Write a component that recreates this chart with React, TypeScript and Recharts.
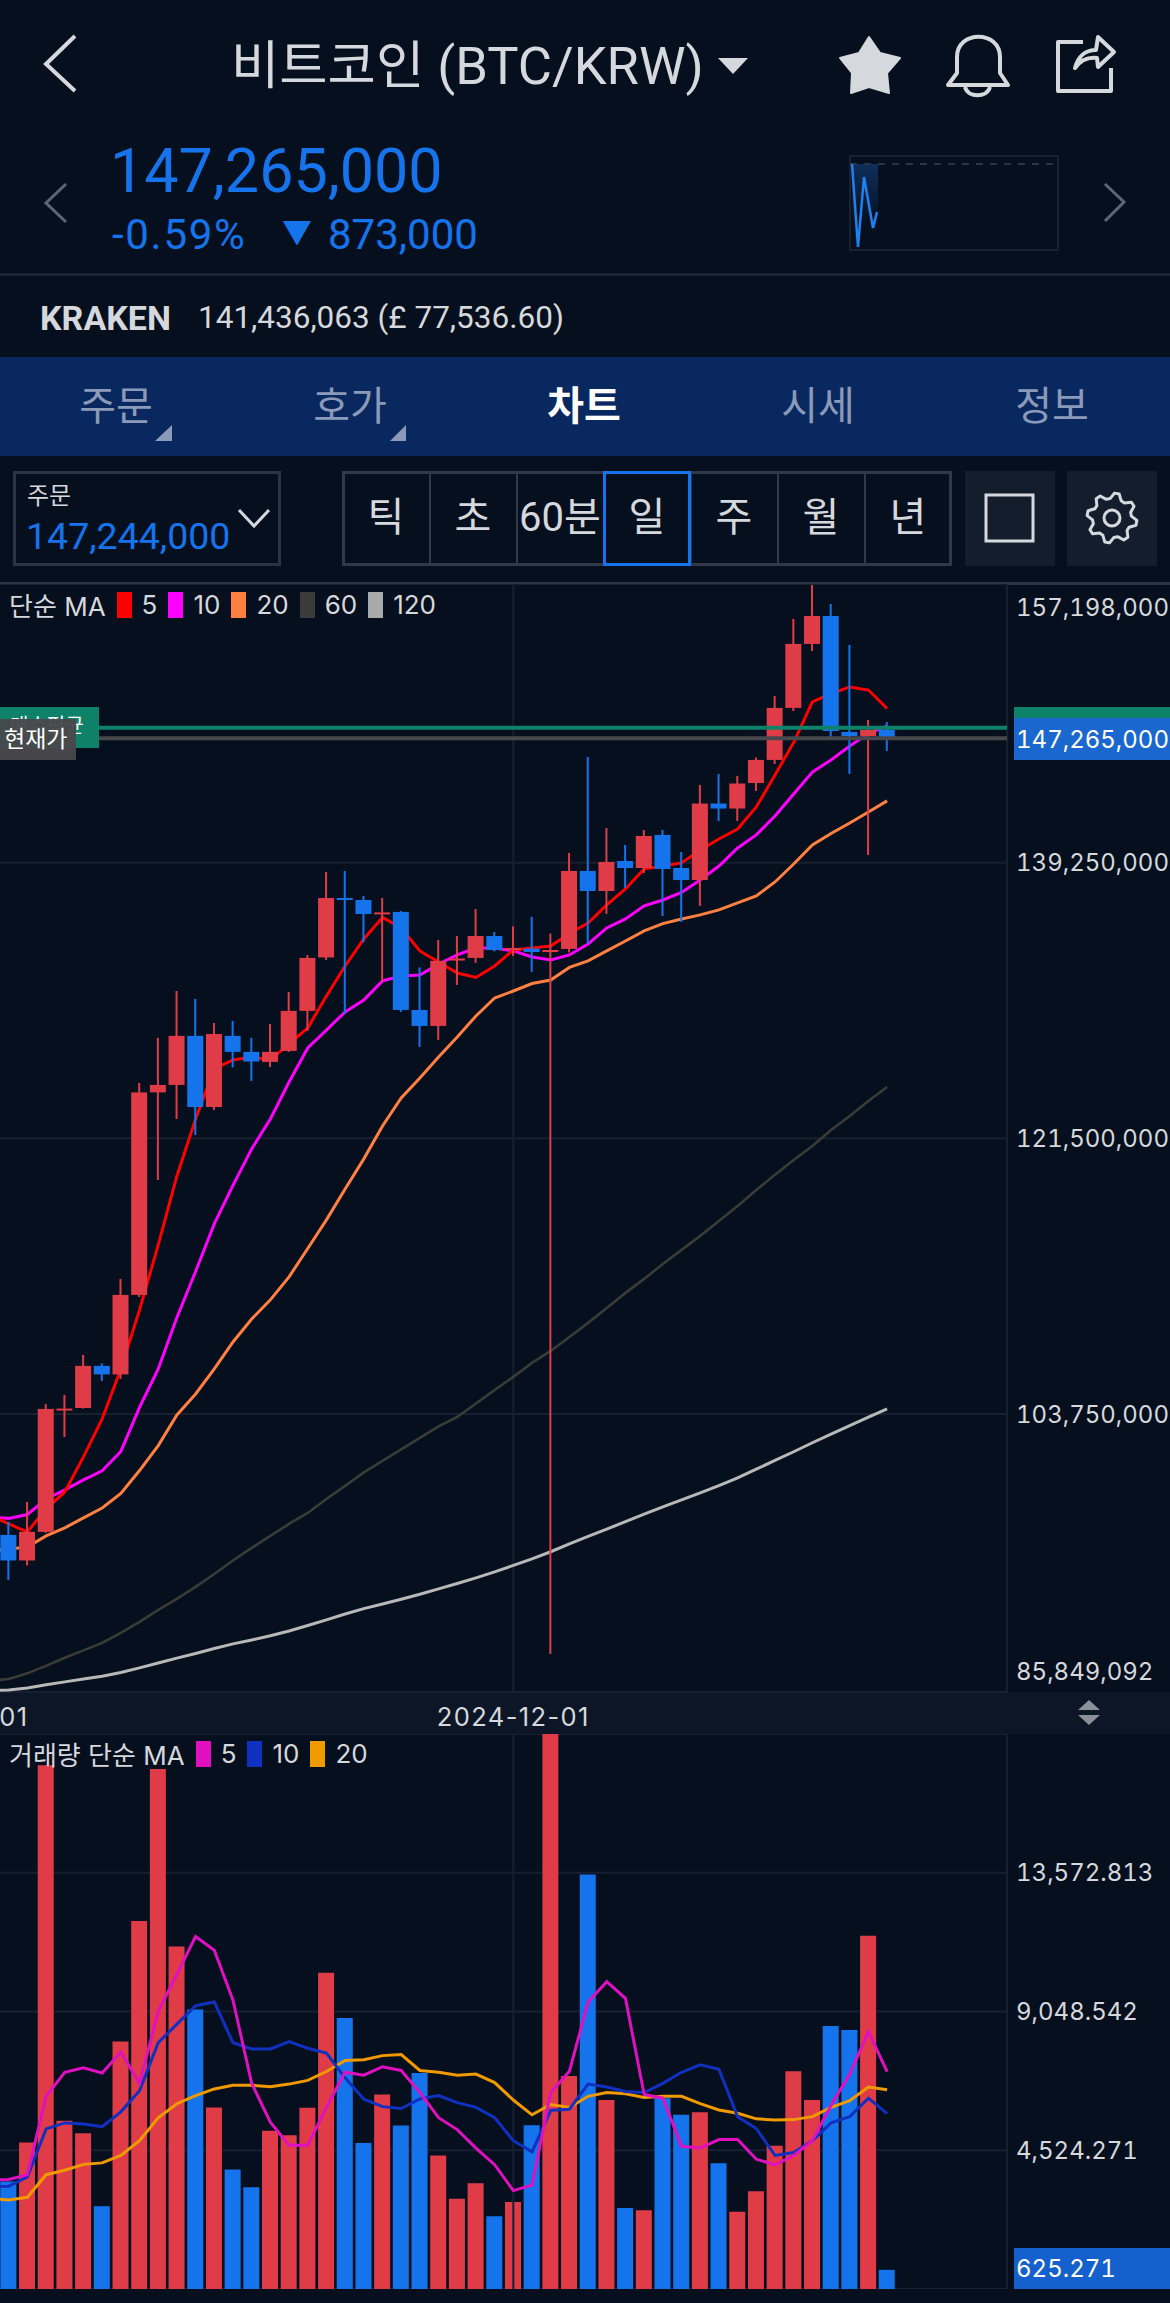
import React from "react";
import {
  Bar,
  CartesianGrid,
  Cell,
  ComposedChart,
  Line,
  ReferenceLine,
  XAxis,
  YAxis,
} from "recharts";

// candles, in million KRW, oldest first
const candleOpen = [95.96, 94.32, 96.16, 104.01, 104.14, 106.85, 106.3, 111.42, 124.46, 124.94, 128.1, 123.52, 128.1, 127.07, 126.42, 127.13, 129.71, 133.15, 136.98, 136.85, 135.95, 136.08, 129.77, 128.74, 132.99, 133.12, 134.53, 133.63, 133.72, 133.5, 133.7, 138.72, 137.43, 139.36, 138.91, 141.04, 138.91, 138.14, 143.06, 142.74, 144.38, 145.87, 149.22, 153.34, 155.14, 147.67, 147.41, 147.8];
const candleClose = [94.32, 96.16, 104.08, 104.1, 106.85, 106.3, 111.42, 124.46, 124.94, 128.1, 123.52, 128.22, 127.07, 126.45, 127.07, 129.71, 133.12, 136.98, 136.85, 135.95, 136.05, 129.77, 128.74, 132.93, 133.08, 134.53, 133.63, 133.76, 133.5, 133.63, 138.72, 137.43, 139.3, 138.91, 140.97, 138.85, 138.14, 143.06, 142.74, 144.35, 145.87, 149.22, 153.34, 155.14, 147.73, 147.41, 147.8, 147.27];
const candleHigh = [96.8, 98.09, 104.4, 104.98, 107.55, 107.01, 112.45, 125.07, 127.97, 130.99, 130.48, 128.93, 129.06, 127.97, 128.87, 130.93, 133.31, 138.66, 138.72, 137.11, 136.98, 136.14, 132.51, 134.28, 134.53, 136.27, 134.79, 135.15, 135.76, 134.69, 139.88, 146.06, 141.49, 140.39, 141.36, 141.36, 139.94, 144.26, 144.97, 144.84, 146.03, 149.99, 154.95, 157.13, 155.91, 153.27, 148.44, 148.31];
const candleLow = [93.07, 94.0, 96.1, 102.27, 104.1, 105.88, 106.01, 111.29, 118.82, 122.75, 121.72, 123.33, 126.07, 125.2, 126.1, 127.07, 128.42, 132.99, 129.51, 134.12, 131.57, 129.64, 127.39, 127.84, 131.38, 132.8, 133.54, 133.25, 132.22, 88.3, 133.47, 134.02, 135.95, 137.63, 138.59, 135.82, 135.44, 136.47, 141.94, 141.94, 143.87, 145.61, 149.02, 152.89, 147.35, 144.97, 139.75, 146.45];

// moving averages start one day before the first candle, off the left edge
const ma5 = [97.25, 96.67, 96.16, 97.64, 98.73, 100.99, 103.43, 106.65, 110.45, 114.64, 119.08, 122.75, 125.97, 126.55, 126.74, 126.55, 127.58, 128.61, 130.67, 132.6, 134.34, 135.73, 135.05, 133.57, 132.86, 132.15, 131.86, 132.6, 133.63, 133.76, 133.89, 134.69, 135.37, 136.53, 137.56, 138.85, 139.04, 139.24, 140.07, 140.78, 141.42, 142.84, 144.9, 146.99, 149.6, 150.14, 150.57, 150.37, 149.18];
const ma10 = [97.12, 97.03, 97.28, 98.28, 98.86, 99.51, 100.09, 101.34, 104.18, 106.65, 109.97, 112.93, 115.99, 118.47, 120.82, 122.75, 125.13, 127.32, 128.48, 129.64, 130.41, 131.64, 131.96, 132.02, 132.73, 133.31, 133.76, 133.76, 133.57, 133.18, 132.99, 133.31, 134.02, 135.05, 135.63, 136.47, 136.85, 137.34, 138.14, 139.04, 140.2, 141.04, 142.26, 143.68, 145.09, 145.87, 146.77, 147.57, 148.06];
const ma20 = [94.93, 95.06, 95.19, 95.9, 96.42, 97.06, 97.7, 98.63, 100.11, 101.72, 103.69, 105.04, 106.65, 108.39, 109.87, 111.1, 112.58, 114.41, 116.25, 118.24, 120.18, 122.3, 124.1, 125.39, 126.74, 128.03, 129.38, 130.54, 130.99, 131.47, 131.7, 132.51, 132.93, 133.57, 134.21, 134.86, 135.33, 135.63, 135.89, 136.21, 136.66, 137.11, 138.01, 139.17, 140.39, 141.13, 141.81, 142.52, 143.23];
const ma60 = [86.56, 86.69, 87.05, 87.53, 88.05, 88.53, 89.01, 89.65, 90.36, 91.14, 91.84, 92.62, 93.45, 94.32, 95.13, 95.9, 96.67, 97.38, 98.28, 99.12, 99.99, 100.73, 101.47, 102.21, 102.95, 103.56, 104.43, 105.3, 106.14, 107.04, 107.81, 108.71, 109.62, 110.58, 111.55, 112.45, 113.41, 114.32, 115.22, 116.18, 117.15, 118.18, 119.15, 120.11, 121.01, 122.04, 122.94, 123.91, 124.81];
const ma120 = [85.95, 85.98, 86.11, 86.31, 86.5, 86.69, 86.87, 87.1, 87.4, 87.72, 88.03, 88.33, 88.65, 88.95, 89.2, 89.47, 89.78, 90.13, 90.49, 90.87, 91.22, 91.52, 91.82, 92.14, 92.49, 92.84, 93.2, 93.58, 94.0, 94.42, 94.88, 95.39, 95.87, 96.34, 96.82, 97.3, 97.77, 98.22, 98.67, 99.14, 99.64, 100.2, 100.76, 101.32, 101.9, 102.46, 103.0, 103.55, 104.08];

const volumes = [3509, 4776, 17077, 5487, 5077, 2701, 8068, 12000, 16956, 11168, 9117, 5921, 3895, 3316, 5162, 5017, 5909, 10311, 8840, 4764, 6344, 5330, 7043, 4354, 2943, 3449, 2376, 2834, 5343, 18097, 6947, 13519, 6163, 2641, 2569, 6223, 5680, 5765, 4100, 2521, 3184, 4667, 7103, 6163, 8575, 8442, 11517, 625.271];
const volMa5 = [3546, 3570, 3727, 6283, 7067, 7212, 7043, 7730, 6705, 9057, 10263, 11493, 11047, 9419, 6705, 5439, 4691, 4691, 5921, 7067, 6971, 7248, 7127, 6404, 5584, 5198, 4595, 4052, 3208, 3389, 6404, 7103, 9358, 10022, 9479, 6344, 6223, 4655, 4595, 4872, 4872, 4233, 4052, 4354, 4836, 5982, 7007, 8394, 7091];
const volMa10 = [3329, 3353, 3654, 5222, 5415, 5379, 5294, 5777, 6464, 8032, 8635, 9238, 9359, 8032, 7827, 7827, 8068, 7851, 7694, 6886, 6187, 5946, 5885, 6199, 6307, 6078, 5921, 5584, 4836, 4474, 5825, 5861, 6681, 6585, 6440, 6404, 6705, 7067, 7308, 7164, 5620, 5234, 4354, 4450, 4836, 5415, 5620, 6223, 5716];
const volMa20 = [2943, 2906, 2991, 3727, 3871, 4064, 4112, 4354, 4836, 5584, 6042, 6307, 6524, 6645, 6645, 6597, 6681, 6802, 7091, 7453, 7477, 7610, 7646, 7127, 7067, 6971, 7007, 6729, 6163, 5680, 6018, 5921, 6283, 6404, 6368, 6247, 6283, 6283, 6042, 5837, 5728, 5548, 5511, 5523, 5620, 5921, 6138, 6585, 6500];

const priceTicks = [157.198, 139.25, 121.5, 103.75, 85.849092];
const priceTickLabels = ["157,198,000", "139,250,000", "121,500,000", "103,750,000", "85,849,092"];
const volumeTicks = [4524.271, 9048.542, 13572.813];
const volumeTickLabels = ["4,524.271", "9,048.542", "13,572.813"];
const dateTicks = [0.28, 27];
const dateTickLabels = ["01", "2024-12-01"];

const currentPrice = 147.265;
const buyAverage = 147.94;

const sparkX = [2, 8, 14, 23, 27];
const sparkY = [87, 4, 74, 23, 39];

const priceLegend = [
  { label: "5", color: "#ff0000" },
  { label: "10", color: "#ff00ff" },
  { label: "20", color: "#ff8040" },
  { label: "60", color: "#3b3b3a" },
  { label: "120", color: "#a9a9a9" },
];
const volumeLegend = [
  { label: "5", color: "#e010c0" },
  { label: "10", color: "#1030c0" },
  { label: "20", color: "#f09a00" },
];
const tabs = ["주문", "호가", "차트", "시세", "정보"];
const periods = ["틱", "초", "60분", "일", "주", "월", "년"];

const UP = "#e03c48";
const DOWN = "#1574ec";
const BG = "#060f1e";
const GRID = "#162030";
const LIGHT = "#d5d8dc";
const CJK = 'Roboto, "Noto Sans CJK KR", sans-serif';
const AXIS_FONT = 'Inter, "Noto Sans CJK KR", sans-serif';

const priceRows = ma5.map((_, k) => {
  const i = k - 1;
  return {
    day: i,
    open: candleOpen[i],
    close: candleClose[i],
    high: candleHigh[i],
    low: candleLow[i],
    range: i < 0 ? null : [candleLow[i], candleHigh[i]],
    ma5: ma5[k],
    ma10: ma10[k],
    ma20: ma20[k],
    ma60: ma60[k],
    ma120: ma120[k],
  };
});

const volumeRows = volMa5.map((_, k) => {
  const i = k - 1;
  return {
    day: i,
    volume: i < 0 ? null : volumes[i],
    up: i < 0 ? false : candleClose[i] >= candleOpen[i],
    ma5: volMa5[k],
    ma10: volMa10[k],
    ma20: volMa20[k],
  };
});

const sparkRows = sparkX.map((x, i) => ({ x, y: sparkY[i] }));

function Candle(props: any) {
  const { x, y, width, height, payload } = props;
  if (payload.open === undefined) return null;
  const span = payload.high - payload.low;
  const toY = (v: number) => y + ((payload.high - v) / span) * height;
  const top = toY(Math.max(payload.open, payload.close));
  const bottom = toY(Math.min(payload.open, payload.close));
  const color = payload.close >= payload.open ? UP : DOWN;
  return (
    <g>
      <rect x={x + width / 2 - 1} y={y} width={2} height={height} fill={color} />
      <rect x={x} y={top} width={width} height={Math.max(bottom - top, 2)} fill={color} />
    </g>
  );
}

function PriceTick(props: any) {
  const { y, payload } = props;
  const i = priceTicks.indexOf(payload.value);
  // the top and bottom labels are pushed inside the pane
  const labelY = Math.min(Math.max(y, 23), 1087);
  return (
    <text x={1016} y={labelY} dominantBaseline="central" fill={LIGHT} fontSize={24} fontFamily={AXIS_FONT} style={{ fontVariantNumeric: "tabular-nums" }}>
      {priceTickLabels[i]}
    </text>
  );
}

function VolumeTick(props: any) {
  const { y, payload } = props;
  const i = volumeTicks.indexOf(payload.value);
  return (
    <text x={1016} y={y} dominantBaseline="central" fill={LIGHT} fontSize={24} fontFamily={AXIS_FONT} style={{ fontVariantNumeric: "tabular-nums" }}>
      {volumeTickLabels[i]}
    </text>
  );
}

function DateTick(props: any) {
  const { x, y, payload } = props;
  const i = dateTicks.indexOf(payload.value);
  return (
    <text x={x} y={y + 16} textAnchor="middle" dominantBaseline="central" fill={LIGHT} fontSize={25.5} letterSpacing={1.4} fontFamily={AXIS_FONT}>
      {dateTickLabels[i]}
    </text>
  );
}

function Label(props: any) {
  const { x, y, size, color = LIGHT, weight = 400, family = CJK, anchor = "left", spacing = 0, tabular = false, children } = props;
  const shift = anchor === "center" ? "translate(-50%,-50%)" : "translateY(-50%)";
  return (
    <div
      style={{
        position: "absolute",
        left: x,
        top: y,
        transform: shift,
        fontSize: size,
        color,
        fontWeight: weight,
        fontFamily: family,
        letterSpacing: spacing,
        fontVariantNumeric: tabular ? "tabular-nums" : "normal",
        whiteSpace: "nowrap",
        lineHeight: 1,
      }}
    >
      {children}
    </div>
  );
}

function Box(props: any) {
  const { x, y, w, h, bg, border } = props;
  return (
    <div
      style={{
        position: "absolute",
        left: x,
        top: y,
        width: w,
        height: h,
        background: bg,
        border,
        boxSizing: "border-box",
      }}
    />
  );
}

function LegendRow(props: any) {
  const { x, y, title, items } = props;
  return (
    <div
      style={{
        position: "absolute",
        left: x,
        top: y,
        height: 27,
        display: "flex",
        alignItems: "center",
        fontSize: 26,
        color: LIGHT,
        fontFamily: AXIS_FONT,
        whiteSpace: "nowrap",
      }}
    >
      <span style={{ marginRight: 11 }}>{title}</span>
      {items.map((item: any) => (
        <React.Fragment key={item.label}>
          <span style={{ width: 15, height: 26, background: item.color, marginRight: 10 }} />
          <span style={{ marginRight: 11 }}>{item.label}</span>
        </React.Fragment>
      ))}
    </div>
  );
}

function Icons() {
  const gear: string[] = [];
  for (let k = 0; k < 32; k++) {
    const r = k % 4 < 2 ? 25 : 19.5;
    const a = ((k - 0.5) * Math.PI) / 16 - Math.PI / 2 + Math.PI / 16;
    gear.push(`${1112 + r * Math.cos(a)},${518 + r * Math.sin(a)}`);
  }
  return (
    <svg width={1170} height={600} style={{ position: "absolute", left: 0, top: 0 }} fill="none">
      <path d="M75 36 L46 64 L75 91" stroke={LIGHT} strokeWidth={4} />
      <path d="M718 58 H748 L733 74 Z" fill={LIGHT} />
      <path
        d="M869 37 L880 53 L900 58 L887 73 L889 93 L869 87 L851 93 L852 73 L840 58 L859 53 Z"
        fill={LIGHT}
        stroke={LIGHT}
        strokeWidth={2}
        strokeLinejoin="round"
      />
      <path
        d="M948 85 L957 73 V57 C957 30 1000 30 1000 57 V73 L1008 85 Z M965 87 C968 98 987 98 990 87"
        stroke={LIGHT}
        strokeWidth={4}
        strokeLinejoin="round"
      />
      <path d="M1083 42 H1058 V91 H1111 V68" stroke={LIGHT} strokeWidth={4} strokeLinejoin="round" />
      <path
        d="M1075 68 C1078 56 1086 50 1096 50 L1098 37 L1114 52 L1098 67 L1097 58 C1088 57 1080 61 1075 68 Z"
        stroke={LIGHT}
        strokeWidth={4}
        strokeLinejoin="round"
      />
      <path d="M66 184 L46 203 L66 222" stroke="#5d6675" strokeWidth={3} />
      <path d="M1105 184 L1124 202 L1105 221" stroke="#5d6675" strokeWidth={3} />
      <path d="M850 164 H1056" stroke="#2a3442" strokeWidth={2} strokeDasharray="7 7" />
      <path d="M155 441 L172 425 V441 Z M390 441 L406 425 V441 Z" fill="#8a9ab8" />
      <path d="M239 510 L254 526 L269 510" stroke={LIGHT} strokeWidth={3} />
      <rect x={986} y={495} width={47} height={46} stroke={LIGHT} strokeWidth={3} />
      <polygon points={gear.join(" ")} stroke={LIGHT} strokeWidth={3} strokeLinejoin="round" />
      <circle cx={1112} cy={518} r={8} stroke={LIGHT} strokeWidth={3} />
    </svg>
  );
}

export default function App() {
  return (
    <div
      style={{
        position: "absolute",
        left: 0,
        top: 0,
        width: 1170,
        height: 2303,
        overflow: "hidden",
        background: BG,
      }}
    >
      <Box x={0} y={273} w={1170} h={3} bg="#1a2434" />
      <Box x={0} y={357} w={1170} h={99} bg="#0a2860" />
      <Box x={13} y={471} w={268} h={95} border="3px solid #2a3442" />
      <Box x={342} y={471} w={610} h={95} border="3px solid #2f3947" />
      {[429, 516, 603, 690, 777, 864].map((x) => (
        <Box key={x} x={x} y={471} w={2} h={95} bg="#2f3947" />
      ))}
      <Box x={603} y={471} w={88} h={95} border="3px solid #1574ec" />
      <Box x={965} y={471} w={90} h={95} bg="#141d2c" />
      <Box x={1067} y={471} w={90} h={95} bg="#141d2c" />
      <Box x={0} y={582} w={1170} h={3} bg="#2a3442" />
      <Box x={0} y={1692} w={1170} h={42} bg="#0d1626" />
      <Box x={849} y={155} w={210} h={96} border="2px solid #182130" />
      <div
        style={{
          position: "absolute",
          left: 852,
          top: 164,
          width: 26,
          height: 60,
          background: "linear-gradient(#0e2f5c, rgba(14,47,92,0))",
        }}
      />

      <Icons />

      <Label x={231} y={66} size={52.5} color={LIGHT}>
        비트코인 (BTC/KRW)
      </Label>
      <Label x={110} y={171} size={61} color={DOWN}>
        147,265,000
      </Label>
      <Label x={112} y={235} size={42} color={DOWN} spacing={1.7}>
        -0.59%
      </Label>
      <Label x={282} y={233} size={30} color={DOWN}>
        ▼
      </Label>
      <Label x={328} y={235} size={42} color={DOWN}>
        873,000
      </Label>
      <Label x={40} y={318} size={34} weight={700} color={LIGHT}>
        KRAKEN
      </Label>
      <Label x={198} y={318} size={31.5} color={LIGHT}>
        141,436,063 (£ 77,536.60)
      </Label>
      {tabs.map((tab, i) => (
        <Label
          key={tab}
          x={116 + i * 234}
          y={407}
          size={40}
          anchor="center"
          weight={tab === "차트" ? 700 : 400}
          color={tab === "차트" ? "#ffffff" : "#8a9ab8"}
        >
          {tab}
        </Label>
      ))}
      <Label x={27} y={496} size={24} color={LIGHT}>
        주문
      </Label>
      <Label x={26} y={537} size={37.5} color={DOWN}>
        147,244,000
      </Label>
      {periods.map((p, i) => (
        <Label key={p} x={386 + i * 87} y={518} size={40} anchor="center" color={LIGHT}>
          {p}
        </Label>
      ))}

      <div style={{ position: "absolute", left: 850, top: 156 }}>
        <ComposedChart width={208} height={95} data={sparkRows} margin={{ top: 0, right: 0, bottom: 0, left: 0 }}>
          <XAxis type="number" dataKey="x" domain={[0, 208]} hide />
          <YAxis type="number" domain={[0, 95]} hide />
          <Line dataKey="y" type="linear" stroke="#1f80f0" strokeWidth={2.5} dot={false} isAnimationActive={false} />
        </ComposedChart>
      </div>

      <div style={{ position: "absolute", left: 0, top: 584 }}>
        <ComposedChart width={1170} height={1149} data={priceRows} margin={{ top: 0, right: 0, bottom: 0, left: 0 }}>
          <CartesianGrid vertical={false} stroke={GRID} strokeWidth={2} />
          <XAxis
            type="number"
            dataKey="day"
            domain={[-0.4655, 53.414]}
            allowDataOverflow
            ticks={dateTicks}
            interval={0}
            height={41}
            axisLine={false}
            tickLine={false}
            tick={<DateTick />}
          />
          <YAxis
            orientation="right"
            type="number"
            domain={[85.849092, 157.198]}
            allowDataOverflow
            ticks={priceTicks}
            interval={0}
            width={163}
            axisLine={{ stroke: GRID, strokeWidth: 2 }}
            tickLine={false}
            tick={<PriceTick />}
          />
          <ReferenceLine x={27} stroke={GRID} strokeWidth={2} />
          <Line dataKey="ma120" type="linear" stroke="#b8b8b8" strokeWidth={3} dot={false} isAnimationActive={false} />
          <Line dataKey="ma60" type="linear" stroke="#3b3b37" strokeWidth={2.6} dot={false} isAnimationActive={false} />
          <Line dataKey="ma20" type="linear" stroke="#ff8040" strokeWidth={3} dot={false} isAnimationActive={false} />
          <Line dataKey="ma10" type="linear" stroke="#ff00ff" strokeWidth={3} dot={false} isAnimationActive={false} />
          <Line dataKey="ma5" type="linear" stroke="#ff0000" strokeWidth={3} dot={false} isAnimationActive={false} />
          <Bar dataKey="range" barSize={16} shape={<Candle />} isAnimationActive={false} zIndex={450} />
          <ReferenceLine y={buyAverage} stroke="#0e8268" strokeWidth={4} zIndex={600} />
          <ReferenceLine y={currentPrice} stroke="#47474c" strokeWidth={4} zIndex={600} />
        </ComposedChart>
      </div>

      <div style={{ position: "absolute", left: 0, top: 1734 }}>
        <ComposedChart width={1170} height={555} data={volumeRows} margin={{ top: 0, right: 0, bottom: 0, left: 0 }}>
          <CartesianGrid vertical={false} stroke={GRID} strokeWidth={2} />
          <XAxis type="number" dataKey="day" domain={[-0.4655, 53.414]} allowDataOverflow height={0} hide />
          <YAxis
            orientation="right"
            type="number"
            domain={[0, 18097.084]}
            allowDataOverflow
            ticks={volumeTicks}
            interval={0}
            width={163}
            axisLine={{ stroke: GRID, strokeWidth: 2 }}
            tickLine={false}
            tick={<VolumeTick />}
          />
          <ReferenceLine x={27} stroke={GRID} strokeWidth={2} />
          <Bar dataKey="volume" barSize={16} isAnimationActive={false}>
            {volumeRows.map((row) => (
              <Cell key={row.day} fill={row.up ? UP : DOWN} />
            ))}
          </Bar>
          <Line dataKey="ma20" type="linear" stroke="#f09a00" strokeWidth={3} dot={false} isAnimationActive={false} />
          <Line dataKey="ma10" type="linear" stroke="#1030c0" strokeWidth={3} dot={false} isAnimationActive={false} />
          <Line dataKey="ma5" type="linear" stroke="#e010c0" strokeWidth={3} dot={false} isAnimationActive={false} />
        </ComposedChart>
      </div>

      <LegendRow x={9} y={591} title="단순 MA" items={priceLegend} />
      <LegendRow x={9} y={1740} title="거래량 단순 MA" items={volumeLegend} />

      <Box x={0} y={707} w={99} h={41} bg="#0e8268" />
      <Label x={10} y={726} size={20} color="#ffffff">
        매수평균
      </Label>
      <Box x={0} y={719} w={76} h={41} bg="rgba(72,72,76,0.96)" />
      <Label x={4} y={739} size={23} color="#ffffff">
        현재가
      </Label>

      <Box x={1014} y={707} w={156} h={12} bg="#0e8268" />
      <Box x={1014} y={718} w={156} h={42} bg="#1a67cf" />
      <Label x={1016} y={740} size={24} color="#ffffff" family={AXIS_FONT} tabular>
        147,265,000
      </Label>
      <Box x={1014} y={2248} w={156} h={41} bg="#1460cc" />
      <Label x={1016} y={2269} size={24} color="#ffffff" family={AXIS_FONT} tabular>
        625.271
      </Label>

      <svg width={30} height={30} style={{ position: "absolute", left: 1074, top: 1698 }}>
        <path d="M4 12 L15 2 L26 12 Z M4 17 L15 27 L26 17 Z" fill="#8a8f98" />
      </svg>
    </div>
  );
}
